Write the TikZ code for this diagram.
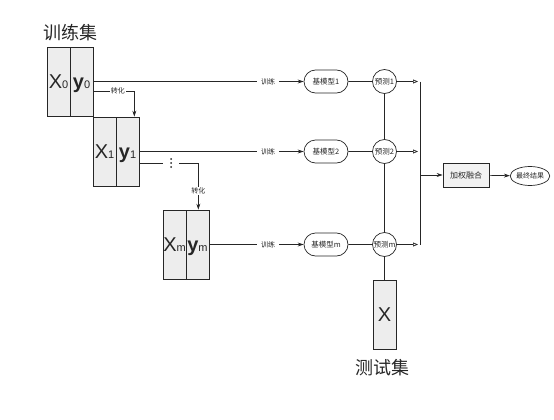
\documentclass[tikz,border=0pt]{standalone}
\usepackage{fontspec}
\setmainfont{Noto Sans CJK SC}
\newfontfamily\latinfont{Liberation Sans}
\usetikzlibrary{arrows.meta,shapes.misc,shapes.geometric}
\newcommand\xysub[2]{{\latinfont\fontsize{20}{20}\selectfont #1}{\latinfont\fontsize{11}{11}\selectfont #2}}
\tikzset{
	half/.style={draw, fill=black!7, minimum width=23pt, minimum height=69pt, inner sep=0pt, text height=14.5pt, text depth=0pt},
	model/.style={draw, rounded rectangle, minimum width=46pt, minimum height=23pt, inner sep=1pt, font=\fontsize{7.5}{8}\selectfont},
	pred/.style={draw, circle, minimum size=24pt, inner sep=0pt, font=\fontsize{7.5}{8}\selectfont},
	lbl/.style={inner sep=4pt, font=\fontsize{7}{7}\selectfont},
	arr/.style={-{Stealth[length=6pt, width=4pt]}},
	opentip/.style={-{Triangle[open, length=5pt, width=4pt]}, shorten >=2pt},
}

\begin{document}
\begin{tikzpicture}[x=1pt, y=-1pt, line width=0.7pt, color=black!85]
		%%%%% START %%%%%
		\useasboundingbox (0, 0) rectangle (554, 420);
		
		\node[font=\fontsize{18}{18}\selectfont] (trainset) at (70, 33) {训练集};
		\node[font=\fontsize{18}{18}\selectfont] (testset) at (382, 368) {测试集};
		
		% training sets
		\node[half] (x0) at (58.5, 81.5) {\xysub{X}{0}};
		\node[half] (y0) at (81.5, 81.5) {\xysub{\bfseries y}{0}};
		\node[half] (x1) at (104.5, 151.5) {\xysub{X}{1}};
		\node[half] (y1) at (127.5, 151.5) {\xysub{\bfseries y}{1}};
		\node[half] (xm) at (174.5, 244.5) {\xysub{X}{m}};
		\node[half] (ym) at (197.5, 244.5) {\xysub{\bfseries y}{m}};
		\node[half] (xt) at (384.5, 314.5) {\latinfont\fontsize{20}{20}\selectfont X};
		
		\draw[arr] ([yshift=-9.5pt]y0.east) -| node[lbl, pos=0.3, fill=white, inner sep=1pt] (c0) {转化} ([xshift=-5pt]y1.north east);
		\node[minimum width=16pt, minimum height=12pt, inner sep=0pt] (dots) at (171, 163) {};
		\fill (dots.center) circle (1pt) ([yshift=4pt]dots.center) circle (1pt) ([yshift=-4pt]dots.center) circle (1pt);
		\draw ([yshift=-11.5pt]y1.east) -- (dots);
		\draw[arr] (dots) -| node[lbl, pos=0.8, fill=white, inner sep=1pt] (c1) {转化} ([xshift=-11pt]ym.north east);
		
		% base models
		\node[lbl] (t0) at (268, 81.5) {训练};
		\node[lbl] (t1) at (268, 151.5) {训练};
		\node[lbl] (tm) at (268, 244.5) {训练};
		\node[model] (m1) at (326, 81.5) {基模型1};
		\node[model] (m2) at (326, 151.5) {基模型2};
		\node[model] (mm) at (326, 244.5) {基模型m};
		\draw[arr] (y0.east) -- (t0) -- (m1);
		\draw[arr] (y1.east) -- (t1) -- (m2);
		\draw[arr] (ym.east) -- (tm) -- (mm);
		
		% predictions
		\node[pred] (p1) at (384.5, 81.5) {预测1};
		\node[pred] (p2) at (384.5, 151.5) {预测2};
		\node[pred] (pm) at (384.5, 244.5) {预测m};
		\draw (m1) -- (p1);
		\draw (m2) -- (p2);
		\draw (mm) -- (pm);
		\draw (p1) -- (p2);
		\draw (p2) -- (pm);
		\draw (pm) -- (xt);
		
		\coordinate (j1) at (420, 81.5);
		\coordinate (j2) at (420, 151.5);
		\coordinate (jm) at (420, 244.5);
		\coordinate (jf) at (420, 175);
		\draw[opentip] (p1) -- (j1);
		\draw[opentip] (p2) -- (j2);
		\draw[opentip] (pm) -- (jm);
		\draw (j1) -- (jm);
		
		\node[draw, fill=black!5, minimum width=46pt, minimum height=24pt, font=\fontsize{8}{9}\selectfont] (fuse) at (466, 175) {加权融合};
		\node[draw, ellipse, minimum width=34pt, minimum height=19pt, inner sep=0pt, font=\fontsize{7}{8}\selectfont] (res) at (530, 176) {最终结果};
		\draw[arr] (jf) -- (fuse);
		\draw[arr] (fuse) -- (res);
		
		%%%%% END %%%%%
	\end{tikzpicture}
\end{document}
